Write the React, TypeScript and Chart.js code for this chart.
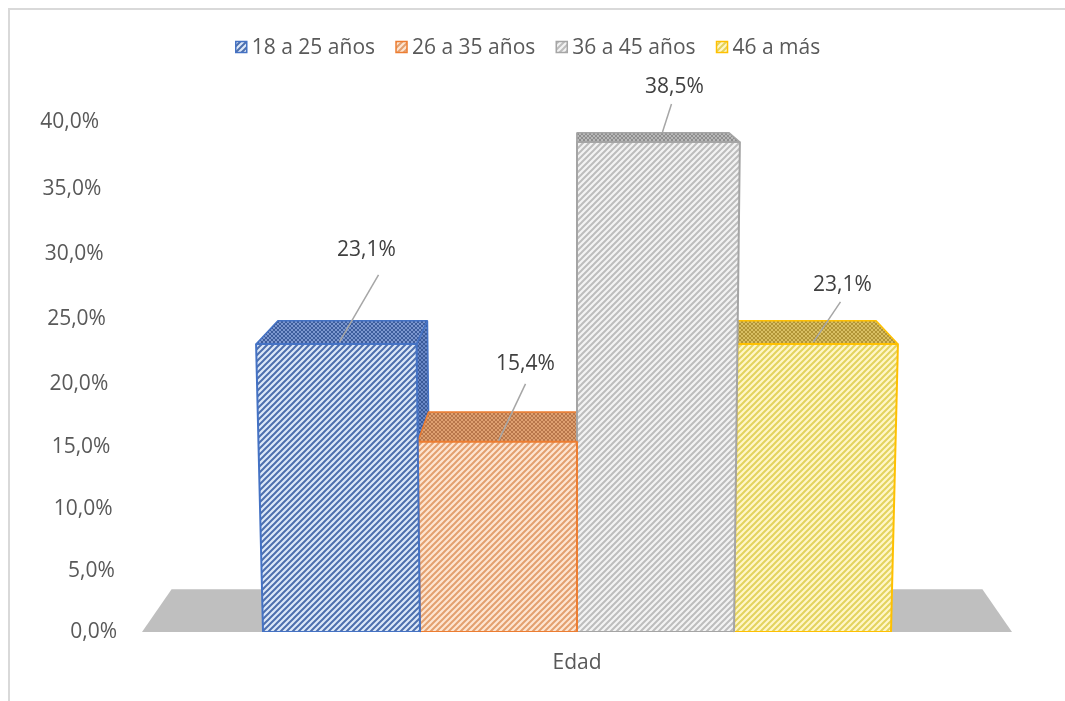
import React, { useEffect, useRef } from 'react';
import { Chart, registerables, LinearScale, BarElement } from 'chart.js';

Chart.register(...registerables);

// ---------- data ----------
const categories = ['Edad'];
const seriesLabels = ['18 a 25 años', '26 a 35 años', '36 a 45 años', '46 a más'];
const seriesValues = [23.1, 15.4, 38.5, 23.1];
const yMin = 0;
const yMax = 40;
const yStep = 5;

// ---------- styles ----------
const FONT = '"Open Sans", sans-serif';
const AXIS_TEXT = '#595959';
const LABEL_TEXT = '#404040';
const FONT_SIZE = 21;

const seriesStyles = [
  { border: '#4472c4', bg: '#dce8f8', stripe: '#4d6fae', topBg: '#7c97cf', topHatch: '#3d5d9c', sideBg: '#6a88c6', sideHatch: '#3a5a98' },
  { border: '#ed7d31', bg: '#fde5d2', stripe: '#e3a06f', topBg: '#dea070', topHatch: '#b7764a', sideBg: '#d89060', sideHatch: '#b06a3a' },
  { border: '#a5a5a5', bg: '#f3f3f3', stripe: '#bdbdbd', topBg: '#b9b9b9', topHatch: '#8e8e8e', sideBg: '#acacac', sideHatch: '#888888' },
  { border: '#ffc000', bg: '#fff6c8', stripe: '#e3d35e', topBg: '#d9bf63', topHatch: '#b19436', sideBg: '#d0b457', sideHatch: '#a88a2c' },
];

// label placement relative to bar top (dx, dy); leader line start (rel. to label) and end (rel. to bar top)
const labelOffsets = [[25, -94], [27, -78], [19, -55], [30, -59]];
const leaderStart = [[12, 25], [0, 20], [-3, 17], [-2, 17]];
const leaderEnd = [[-2, -2], [0, -1], [7, -10], [1, -2]];

// perspective parameters (Excel 3-D look)
const PERSP_R = 1.053;
const PERSP_G = 7.67e-5;
const DEPTH = 0.068;
const VP_Y = 3;
const persp = { cx: 577, y0: 632 };

function px(X: number, Y: number) {
  return persp.cx + (X - persp.cx) * (1 + PERSP_G * (persp.y0 - Y));
}
function back(x: number, y: number) {
  return [x + DEPTH * (persp.cx - x), y + DEPTH * (VP_Y - y)];
}

class PerspectiveScale extends LinearScale {
  static id = 'perspective';
  static defaults = LinearScale.defaults;
  getPixelForValue(value: any) {
    if (value === null || value === undefined || isNaN(value)) return NaN;
    const self: any = this;
    const t = (value - self._startValue) / self._valueRange;
    const f = t / (t + PERSP_R * (1 - t));
    return this.getPixelForDecimal(f);
  }
  getValueForPixel(pixel: number) {
    const self: any = this;
    const f = this.getDecimalForPixel(pixel);
    const t = (f * PERSP_R) / (1 - f + f * PERSP_R);
    return self._startValue + t * self._valueRange;
  }
  _computeLabelItems(chartArea: any) {
    const items = (LinearScale.prototype as any)._computeLabelItems.call(this, chartArea);
    const ca: any = (this as any).chart.chartArea;
    if (!ca) return items;
    const cx = (ca.left + ca.right) / 2;
    const base = this.getPixelForValue((this as any).min);
    for (const it of items) {
      const tr = it.options.translation;
      const s = 1 + PERSP_G * (base - tr[1]);
      tr[0] = cx + (tr[0] - cx) * s;
    }
    return items;
  }
}

// front face of a bar, drawn in perspective (edges converge slightly downward)
class PerspBar extends BarElement {
  static id = 'perspBar';
  static defaults = BarElement.defaults;
  static defaultRoutes = (BarElement as any).defaultRoutes;
  draw(ctx: CanvasRenderingContext2D) {
    const self: any = this;
    const o = self.options;
    const l = self.x - self.width / 2;
    const r = self.x + self.width / 2;
    const y = self.y;
    const b = self.base;
    ctx.save();
    ctx.beginPath();
    ctx.moveTo(px(l, b), b);
    ctx.lineTo(px(r, b), b);
    ctx.lineTo(px(r, y), y);
    ctx.lineTo(px(l, y), y);
    ctx.closePath();
    ctx.fillStyle = o.backgroundColor;
    ctx.fill();
    ctx.lineWidth = typeof o.borderWidth === 'number' ? o.borderWidth : 2;
    ctx.strokeStyle = o.borderColor;
    ctx.lineJoin = 'bevel';
    ctx.stroke();
    ctx.restore();
  }
}

Chart.register(PerspectiveScale as any, PerspBar as any);
(Chart.defaults as any).datasets.bar.dataElementType = 'perspBar';

function stripePattern(ctx: CanvasRenderingContext2D, bg: string, fg: string) {
  const size = 6;
  const c = document.createElement('canvas');
  c.width = size;
  c.height = size;
  const x = c.getContext('2d')!;
  x.fillStyle = bg;
  x.fillRect(0, 0, size, size);
  x.strokeStyle = fg;
  x.lineWidth = 2;
  x.beginPath();
  x.moveTo(-1, size + 1);
  x.lineTo(size + 1, -1);
  x.moveTo(-2, 2);
  x.lineTo(2, -2);
  x.moveTo(size - 2, size + 2);
  x.lineTo(size + 2, size - 2);
  x.stroke();
  return ctx.createPattern(c, 'repeat')!;
}

function hatchPattern(ctx: CanvasRenderingContext2D, bg: string, fg: string) {
  const size = 4;
  const c = document.createElement('canvas');
  c.width = size;
  c.height = size;
  const x = c.getContext('2d')!;
  x.fillStyle = bg;
  x.fillRect(0, 0, size, size);
  x.strokeStyle = fg;
  x.lineWidth = 1;
  x.beginPath();
  x.moveTo(0, size);
  x.lineTo(size, 0);
  x.moveTo(0, 0);
  x.lineTo(size, size);
  x.stroke();
  return ctx.createPattern(c, 'repeat')!;
}

function fmt(v: number) {
  return v.toFixed(1).replace('.', ',') + '%';
}

export default function App() {
  const ref = useRef<HTMLCanvasElement>(null);

  useEffect(() => {
    const canvas = ref.current!;
    const ctx = canvas.getContext('2d')!;
    const fronts = seriesStyles.map((s) => stripePattern(ctx, s.bg, s.stripe));
    const tops = seriesStyles.map((s) => hatchPattern(ctx, s.topBg, s.topHatch));
    const sides = seriesStyles.map((s) => hatchPattern(ctx, s.sideBg, s.sideHatch));

    const frame = {
      id: 'frame',
      beforeDraw(chart: any) {
        const c = chart.ctx;
        c.save();
        c.fillStyle = '#d9d9d9';
        c.fillRect(8, 8, chart.width - 8, 2);
        c.fillRect(8, 8, 2, chart.height - 8);
        c.restore();
      },
    };

    const threeD = {
      id: 'threeD',
      beforeDatasetsDraw(chart: any) {
        const c = chart.ctx;
        const ca = chart.chartArea;
        persp.cx = (ca.left + ca.right) / 2;
        persp.y0 = chart.scales.y.getPixelForValue(0);
        const y0 = persp.y0;
        c.save();
        c.lineJoin = 'bevel';
        // floor
        const bl = back(ca.left, y0);
        const br = back(ca.right, y0);
        c.fillStyle = '#bfbfbf';
        c.beginPath();
        c.moveTo(ca.left, y0);
        c.lineTo(ca.right, y0);
        c.lineTo(br[0], br[1]);
        c.lineTo(bl[0], bl[1]);
        c.closePath();
        c.fill();

        const order = chart.data.datasets.map((_: any, i: number) => i);
        const els = order.map((i: number) => chart.getDatasetMeta(i).data[0].getProps(['x', 'y', 'base', 'width'], true));
        order.sort((a: number, b: number) => Math.abs(els[b].x - persp.cx) - Math.abs(els[a].x - persp.cx));
        for (const i of order) {
          const e = els[i];
          const l = e.x - e.width / 2;
          const r = e.x + e.width / 2;
          const st = seriesStyles[i];
          c.lineWidth = 1.5;
          c.strokeStyle = st.border;
          // side face
          const sX = e.x < persp.cx ? r : l;
          const fTop = [px(sX, e.y), e.y];
          const fBot = [px(sX, e.base), e.base];
          const s1 = back(fTop[0], fTop[1]);
          const s2 = back(fBot[0], fBot[1]);
          c.fillStyle = sides[i];
          c.beginPath();
          c.moveTo(fTop[0], fTop[1]);
          c.lineTo(s1[0], s1[1]);
          c.lineTo(s2[0], s2[1]);
          c.lineTo(fBot[0], fBot[1]);
          c.closePath();
          c.fill();
          c.stroke();
          // top face
          const fl = px(l, e.y);
          const fr = px(r, e.y);
          const t1 = back(fl, e.y);
          const t2 = back(fr, e.y);
          c.fillStyle = tops[i];
          c.beginPath();
          c.moveTo(fl, e.y);
          c.lineTo(fr, e.y);
          c.lineTo(t2[0], t2[1]);
          c.lineTo(t1[0], t1[1]);
          c.closePath();
          c.fill();
          c.stroke();
        }
        c.restore();
      },
      afterDatasetsDraw(chart: any) {
        const c = chart.ctx;
        c.save();
        c.font = `${FONT_SIZE}px ${FONT}`;
        c.textAlign = 'center';
        c.textBaseline = 'middle';
        chart.data.datasets.forEach((ds: any, i: number) => {
          const e = chart.getDatasetMeta(i).data[0].getProps(['x', 'y'], true);
          const lx = e.x + labelOffsets[i][0];
          const ly = e.y + labelOffsets[i][1];
          c.strokeStyle = '#a6a6a6';
          c.lineWidth = 1.5;
          c.beginPath();
          c.moveTo(lx + leaderStart[i][0], ly + leaderStart[i][1]);
          c.lineTo(e.x + leaderEnd[i][0], e.y + leaderEnd[i][1]);
          c.stroke();
          c.fillStyle = LABEL_TEXT;
          c.fillText(fmt(ds.data[0]), lx, ly);
        });
        c.restore();
      },
      afterDraw(chart: any) {
        // legend
        const c = chart.ctx;
        c.save();
        c.font = `${FONT_SIZE}px ${FONT}`;
        c.textBaseline = 'middle';
        c.textAlign = 'left';
        const box = 11;
        const gap = 5;
        const itemGap = 21;
        const widths = chart.data.datasets.map((d: any) => c.measureText(d.label).width);
        const total = widths.reduce((a: number, b: number) => a + b + box + gap, 0) + itemGap * (widths.length - 1);
        let x = 528 - total / 2;
        const cy = 47;
        chart.data.datasets.forEach((d: any, i: number) => {
          c.fillStyle = fronts[i];
          c.fillRect(x, cy - box / 2, box, box);
          c.strokeStyle = seriesStyles[i].border;
          c.lineWidth = 1.5;
          c.strokeRect(x, cy - box / 2, box, box);
          c.fillStyle = AXIS_TEXT;
          c.fillText(d.label, x + box + gap, cy + 1);
          x += box + gap + widths[i] + itemGap;
        });
        c.restore();
      },
    };

    const chart = new Chart(canvas, {
      type: 'bar',
      data: {
        labels: categories,
        datasets: seriesLabels.map((label, i) => ({
          label,
          data: [seriesValues[i]],
          backgroundColor: fronts[i],
          borderColor: seriesStyles[i].border,
          borderWidth: 2,
          borderSkipped: false,
        })),
      },
      options: {
        animation: false,
        responsive: false,
        devicePixelRatio: 1,
        layout: { padding: { top: 122, right: 53, bottom: 0, left: 0 } },
        datasets: { bar: { categoryPercentage: 0.7218, barPercentage: 1 } },
        plugins: {
          legend: { display: false },
          tooltip: { enabled: false },
        },
        scales: {
          x: {
            type: 'category',
            grid: { display: false, drawTicks: false },
            border: { display: false },
            ticks: { color: AXIS_TEXT, font: { family: FONT, size: FONT_SIZE }, padding: 18 },
            afterFit: (s: any) => {
              s.height = 69;
            },
          },
          y: {
            type: 'perspective' as any,
            min: yMin,
            max: yMax,
            grid: { display: false, drawTicks: false },
            border: { display: false },
            ticks: {
              stepSize: yStep,
              color: AXIS_TEXT,
              font: { family: FONT, size: FONT_SIZE },
              padding: 25,
              callback: (v: any) => fmt(Number(v)),
            },
            afterFit: (s: any) => {
              s.width = 142;
            },
          },
        },
      } as any,
      plugins: [frame, threeD],
    });
    return () => chart.destroy();
  }, []);

  return (
    <div style={{ position: 'absolute', left: 0, top: 0, width: 1065, height: 701, background: '#ffffff' }}>
      <canvas ref={ref} width={1065} height={701} style={{ display: 'block' }} />
    </div>
  );
}
